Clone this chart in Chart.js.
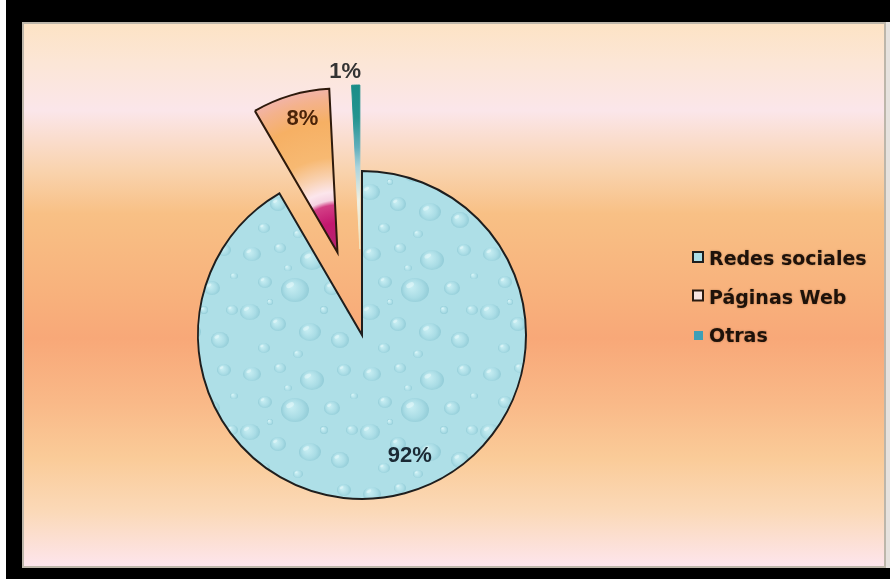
<!DOCTYPE html>
<html>
<head>
<meta charset="utf-8">
<script src="https://cdn.jsdelivr.net/npm/chart.js@4.4.1/dist/chart.umd.min.js"></script>
<style>
  html, body { margin: 0; padding: 0; background: #fff; overflow: hidden; }
  #frame { position: absolute; left: 6px; top: 0; width: 884px; height: 579px; background: #000; }
  #edge { position: absolute; left: 886px; top: 22px; width: 4px; height: 546px; background: #e6e2de; }
  #panel {
    position: absolute; left: 22px; top: 22px; width: 860px; height: 542px;
    border: 2px solid #bdb6aa;
    background: linear-gradient(to bottom,
      #fde3c5 0%, #fce6d6 7%, #fbe6ea 16%, #f9d3ae 27%, #f8c085 35%,
      #f8b17c 50%, #f8a878 58%, #f9b988 70%, #facb98 80%, #fbd9b8 90%, #fde5ec 100%);
  }
  #chart-box { position: absolute; left: 0; top: 0; width: 890px; height: 579px; }
</style>
</head>
<body>
<div id="frame"></div>
<div id="edge"></div>
<div id="panel"></div>
<div id="chart-box"><canvas id="pie-chart"></canvas></div>
<script>
const categories = ['Redes sociales', 'Páginas Web', 'Otras'];
const shares = [91.6, 7.6, 0.8];
const shareLabels = ['92%', '8%', '1%'];

// water drop texture for the big slice
function waterPattern() {
  const c = document.createElement('canvas');
  c.width = 120; c.height = 120;
  const g = c.getContext('2d');
  g.fillStyle = '#aedfe7';
  g.fillRect(0, 0, 120, 120);
  const drops = [
    [12,14,9,7],[40,8,6,5],[72,20,12,10],[104,10,7,6],[25,42,7,6],[55,50,14,12],
    [92,48,8,7],[112,70,6,5],[10,72,10,8],[38,84,8,7],[70,92,11,9],[100,100,9,8],
    [48,28,4,3],[24,108,6,5],[84,70,4,4],[58,114,5,4],[114,36,4,3],[30,62,3,3]
  ];
  drops.forEach(([x, y, rx, ry]) => {
    const rg = g.createRadialGradient(x - rx * 0.3, y - ry * 0.3, 1, x, y, rx);
    rg.addColorStop(0, '#c6edf2');
    rg.addColorStop(0.65, '#a9dce5');
    rg.addColorStop(1, '#92ccd7');
    g.fillStyle = rg;
    g.beginPath(); g.ellipse(x, y, rx, ry, 0, 0, Math.PI * 2); g.fill();
    g.fillStyle = 'rgba(240,252,253,0.45)';
    g.beginPath(); g.ellipse(x - rx * 0.35, y - ry * 0.4, rx * 0.3, ry * 0.2, -0.5, 0, Math.PI * 2); g.fill();
  });
  return g.createPattern(c, 'repeat');
}

const water = waterPattern();

function sliceFill(context) {
  const chart = context.chart;
  const i = context.dataIndex;
  if (i === 0) return water;
  if (!chart.chartArea) return i === 1 ? '#f6b064' : '#2a9896';
  const meta = chart.getDatasetMeta(0);
  const R = meta.controller.outerRadius || 164;
  const cx = (chart.chartArea.left + chart.chartArea.right) / 2;
  const cy = (chart.chartArea.top + chart.chartArea.bottom) / 2;
  const grad = chart.ctx.createRadialGradient(cx, cy, 0, cx, cy, R);
  if (i === 1) {
    grad.addColorStop(0, '#b2286e');
    grad.addColorStop(0.18, '#c3176f');
    grad.addColorStop(0.29, '#d33f86');
    grad.addColorStop(0.32, '#f5d3e2');
    grad.addColorStop(0.37, '#fce6ec');
    grad.addColorStop(0.46, '#f9d2b2');
    grad.addColorStop(0.58, '#f7b972');
    grad.addColorStop(0.8, '#f6b064');
    grad.addColorStop(0.93, '#f4b28c');
    grad.addColorStop(1, '#f2b4a8');
  } else {
    grad.addColorStop(0, '#f3e2b8');
    grad.addColorStop(0.3, '#eef0e4');
    grad.addColorStop(0.5, '#a9d3dc');
    grad.addColorStop(0.62, '#5faebc');
    grad.addColorStop(0.8, '#23948f');
    grad.addColorStop(1, '#1a8d88');
  }
  return grad;
}

// chart.js shrinks exploded slices (radius and angle); undo that so they keep their true size
const explodeFix = {
  id: 'explodeFix',
  beforeDatasetsDraw(chart) {
    const meta = chart.getDatasetMeta(0);
    const R = meta.controller.outerRadius;
    let start = -Math.PI / 2;
    meta.data.forEach(arc => {
      const off = (arc.options.offset || 0) / 4;
      const fix = 1 - Math.sin(Math.min(Math.PI, arc.circumference));
      const o = off * fix;
      const d = o / (Math.PI * R);
      arc.outerRadius = R - o;
      arc.startAngle = start - d / 2;
      arc.endAngle = start + arc.circumference + d / 2;
      start += arc.circumference;
    });
  }
};

const labelFrac = [0.79, 0.84, 1.085];
const labelNudge = [-6.5, 1.8, -3.3];
const labelColors = ['#1b2a35', '#4a2308', '#333333'];

const sliceLabels = {
  id: 'sliceLabels',
  afterDatasetsDraw(chart) {
    const ctx = chart.ctx;
    const meta = chart.getDatasetMeta(0);
    const R = meta.controller.outerRadius;
    ctx.save();
    ctx.font = 'bold 22px "Liberation Sans", Arial, sans-serif';
    ctx.textAlign = 'center';
    ctx.textBaseline = 'middle';
    meta.data.forEach((arc, i) => {
      const mid = (arc.startAngle + arc.endAngle) / 2;
      const off = (arc.options.offset || 0) / 4;
      const ang = mid + labelNudge[i] * Math.PI / 180;
      const x = arc.x + Math.cos(mid) * off + Math.cos(ang) * labelFrac[i] * R;
      const y = arc.y + Math.sin(mid) * off + Math.sin(ang) * labelFrac[i] * R;
      ctx.fillStyle = labelColors[i];
      ctx.fillText(shareLabels[i], x, y);
    });
    ctx.restore();
  }
};

const legendBoxes = [
  { fill: '#aadde6', stroke: '#1e1e1e' },
  { fill: '#f8e4e0', stroke: '#2a1a10' },
  { fill: '#3e9fb6', stroke: null }
];

const sideLegend = {
  id: 'sideLegend',
  afterDraw(chart) {
    const ctx = chart.ctx;
    ctx.save();
    ctx.font = 'bold 19px "DejaVu Sans", sans-serif';
    ctx.textBaseline = 'alphabetic';
    categories.forEach((name, i) => {
      const base = 265 + i * 38.5;
      const b = legendBoxes[i];
      ctx.fillStyle = b.fill;
      if (b.stroke) {
        ctx.fillRect(693, base - 13, 10, 10);
        ctx.strokeStyle = b.stroke;
        ctx.lineWidth = 2;
        ctx.strokeRect(693, base - 13, 10, 10);
      } else {
        ctx.fillRect(694, base - 11, 9, 9);
      }
      ctx.shadowColor = 'rgba(70,35,10,0.4)';
      ctx.shadowBlur = 2;
      ctx.fillStyle = '#1e120a';
      ctx.fillText(name, 709, base);
      ctx.shadowBlur = 0;
    });
    ctx.restore();
  }
};

new Chart(document.getElementById('pie-chart'), {
  type: 'pie',
  data: {
    labels: categories,
    datasets: [{
      data: shares,
      backgroundColor: sliceFill,
      borderColor: (c) => c.dataIndex === 2 ? sliceFill(c) : (c.dataIndex === 0 ? '#1e1e1e' : '#2e1a0c'),
      borderWidth: [2, 2, 1],
      borderJoinStyle: 'miter',
      offset: [0, 344, 344],
      clip: false
    }]
  },
  options: {
    responsive: true,
    maintainAspectRatio: false,
    animation: false,
    radius: 164,
    layout: { padding: { left: 0, right: 166, top: 91, bottom: 0 } },
    plugins: {
      legend: { display: false },
      tooltip: { enabled: false }
    }
  },
  plugins: [explodeFix, sliceLabels, sideLegend]
});
</script>
</body>
</html>
